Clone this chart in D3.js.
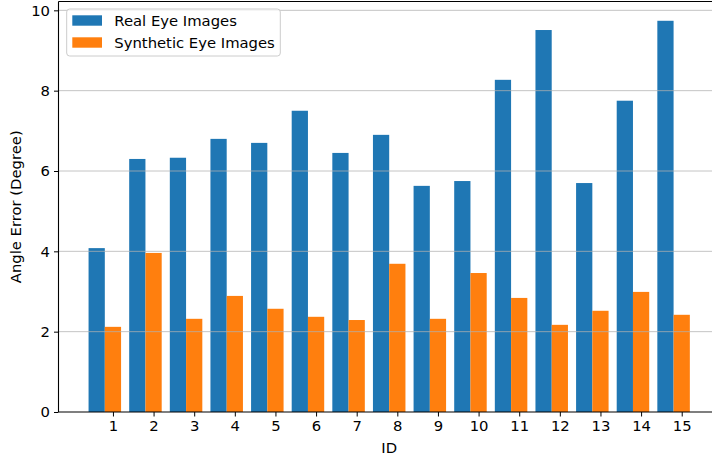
<!DOCTYPE html>
<html lang="en">
<head>
    <meta charset="UTF-8">
    <title>Angle Error</title>
    <script src="https://cdn.jsdelivr.net/npm/d3@7"></script>
    <style>
        body { margin: 0; background: #fff; }
        #graphDiv { width: 712px; height: 459px; overflow: hidden; }
        text { font-family: "DejaVu Sans", sans-serif; fill: #000; }
    </style>
</head>
<body>
<div id="graphDiv"></div>
<script>
    var ids = ["1", "2", "3", "4", "5", "6", "7", "8", "9", "10", "11", "12", "13", "14", "15"];
    var realErr = [4.08, 6.30, 6.33, 6.80, 6.70, 7.50, 6.45, 6.90, 5.63, 5.75, 8.27, 9.51, 5.70, 7.75, 9.74];
    var synthErr = [2.12, 3.96, 2.32, 2.89, 2.57, 2.37, 2.29, 3.69, 2.32, 3.46, 2.84, 2.17, 2.52, 2.99, 2.42];
    var yTicks = [0, 2, 4, 6, 8, 10];
    var seriesNames = ["Real Eye Images", "Synthetic Eye Images"];
    var colors = ["#1f77b4", "#ff7f0e"];

    function drawChart() {
        var selector = "#graphDiv";
        var left = 58.5, right = 719.9, top = 1.5, bottom = 412;
        var fs = "14.8px";

        var svg = d3.select(selector).append("svg")
            .attr("width", 712)
            .attr("height", 459);

        // index positions, ticks at index, blue bar left of tick, orange centred
        var x = d3.scaleLinear().domain([-1.34, 14.94]).range([left, right]);
        var y = d3.scaleLinear().domain([0, 10.22]).range([bottom, top]);
        var bw = x(0.4) - x(0);

        var data = [];
        for (var i = 0; i < ids.length; i++) {
            data.push({i: i, v: realErr[i], s: 0, off: -0.6});
            data.push({i: i, v: synthErr[i], s: 1, off: -0.2});
        }

        svg.selectAll("rect.bar")
            .data(data).enter().append("rect")
            .attr("class", "bar")
            .attr("x", function (d) { return x(d.i + d.off); })
            .attr("y", function (d) { return y(d.v); })
            .attr("width", bw)
            .attr("height", function (d) { return y(0) - y(d.v); })
            .style("fill", function (d) { return colors[d.s]; });

        // grid on top of bars
        svg.selectAll("line.grid")
            .data(yTicks.slice(1)).enter().append("line")
            .attr("x1", left).attr("x2", 712)
            .attr("y1", function (d) { return y(d); })
            .attr("y2", function (d) { return y(d); })
            .style("stroke", "#b0b0b0")
            .style("stroke-opacity", 0.75)
            .style("stroke-width", 1);

        // y axis
        var yAxis = svg.append("g")
            .attr("transform", "translate(" + left + ",0)")
            .call(d3.axisLeft(y).tickValues(yTicks).tickSize(4.5).tickPadding(4).tickFormat(d3.format("d")));
        yAxis.select(".domain").remove();
        yAxis.selectAll("text").style("font-size", fs).style("font-family", "DejaVu Sans").attr("fill", "#000");
        yAxis.selectAll("line").attr("stroke", "#000");

        // x axis
        var xAxis = svg.append("g")
            .attr("transform", "translate(0," + bottom + ")")
            .call(d3.axisBottom(x).tickValues(d3.range(ids.length)).tickSize(4.5).tickPadding(4)
                .tickFormat(function (d) { return ids[d]; }));
        xAxis.select(".domain").remove();
        xAxis.selectAll("text").style("font-size", fs).style("font-family", "DejaVu Sans").attr("fill", "#000");
        xAxis.selectAll("line").attr("stroke", "#000");

        // spines
        svg.append("line").attr("x1", left).attr("x2", left).attr("y1", top).attr("y2", bottom)
            .style("stroke", "#000").style("stroke-width", 1.1);
        svg.append("line").attr("x1", left).attr("x2", 712).attr("y1", bottom).attr("y2", bottom)
            .style("stroke", "#000").style("stroke-width", 1.1);
        svg.append("line").attr("x1", left).attr("x2", 712).attr("y1", top).attr("y2", top)
            .style("stroke", "#000").style("stroke-width", 1.1);

        // labels
        svg.append("text")
            .attr("x", (left + right) / 2).attr("y", 453.3)
            .attr("text-anchor", "middle")
            .style("font-size", fs)
            .text("ID");
        svg.append("text")
            .attr("transform", "translate(20.7," + ((top + bottom) / 2) + ") rotate(-90)")
            .attr("text-anchor", "middle")
            .style("font-size", fs)
            .text("Angle Error (Degree)");

        // legend
        var lg = svg.append("g");
        lg.append("rect")
            .attr("x", 66.7).attr("y", 9).attr("width", 213.6).attr("height", 47)
            .attr("rx", 3)
            .style("fill", "#fff").style("fill-opacity", 0.8)
            .style("stroke", "#cccccc").style("stroke-width", 1);
        seriesNames.forEach(function (name, k) {
            lg.append("rect")
                .attr("x", 72.3).attr("y", 15.3 + k * 22)
                .attr("width", 29.7).attr("height", 10.4)
                .style("fill", colors[k]);
            lg.append("text")
                .attr("x", 114.3).attr("y", 25.7 + k * 22)
                .style("font-size", fs)
                .text(name);
        });
    }

    drawChart();
</script>
</body>
</html>
